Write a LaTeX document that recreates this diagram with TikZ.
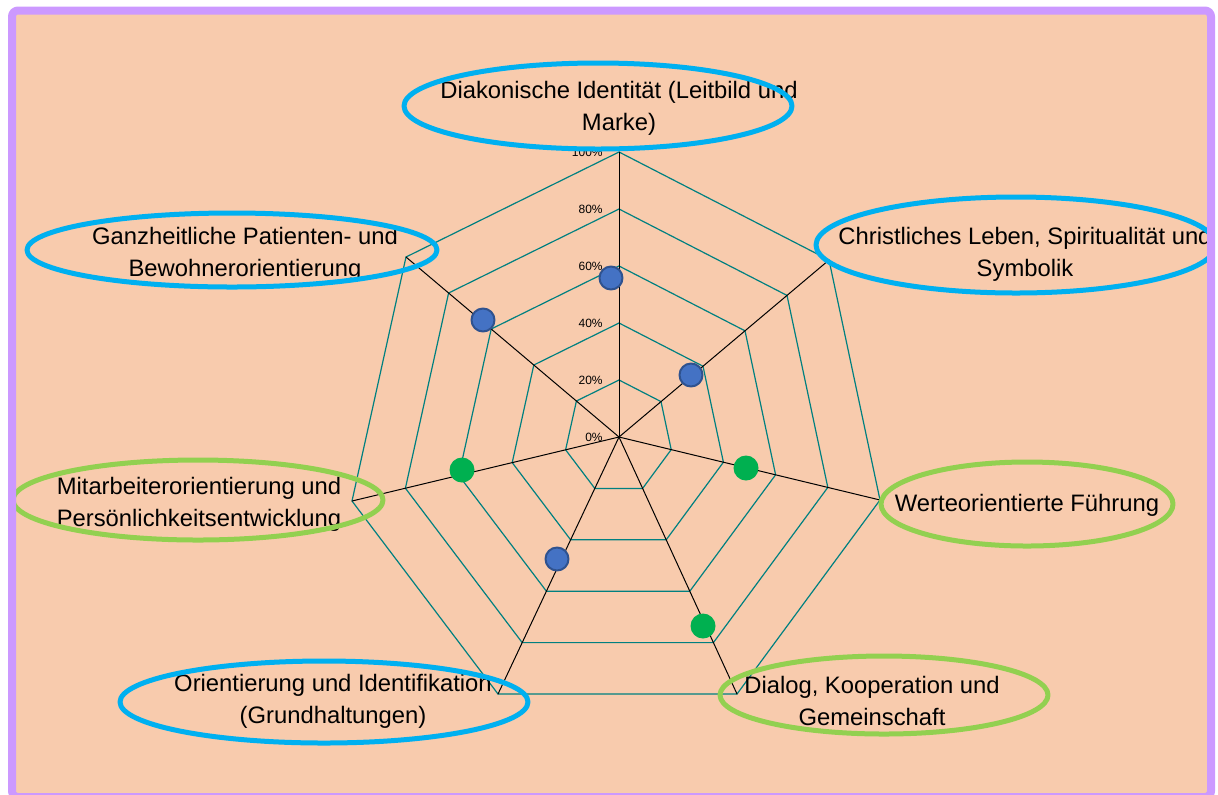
\documentclass[tikz,border=0pt]{standalone}
\usepackage{fontspec}
\setmainfont{Liberation Sans}
\usetikzlibrary{calc}
\definecolor{peach}{HTML}{F8CBAD}
\definecolor{lilac}{HTML}{CC99FF}
\definecolor{skyring}{HTML}{00B0F0}
\definecolor{limering}{HTML}{92D050}
\definecolor{gridteal}{HTML}{008080}
\definecolor{dotblue}{HTML}{4472C4}
\definecolor{dotblueedge}{HTML}{2F528F}
\definecolor{dotgreen}{HTML}{00B050}
\tikzset{
  ring/.style={line width=2.5pt},
  bluering/.style={ring, draw=skyring},
  greenring/.style={ring, draw=limering},
  axislabel/.style={font=\fontsize{11.9}{16}\selectfont, align=center, inner sep=0pt},
  pct/.style={font=\fontsize{6}{7}\selectfont, anchor=east, inner sep=0pt},
  bluedot/.style={circle, fill=dotblue, draw=dotblueedge, line width=1pt, minimum size=11.5pt, inner sep=0pt},
  greendot/.style={circle, fill=dotgreen, minimum size=12.5pt, inner sep=0pt},
}
\begin{document}
\begin{tikzpicture}[x=0.5pt, y=-0.5pt, line join=round, line cap=round]
\useasboundingbox (0,0) rectangle (1218,794);
\fill[white] (0,0) rectangle (1218,794);
\fill[peach] (12,10.5) rectangle (1211,797);
\begin{scope}
\clip (16,14.5) rectangle (1207,793);
\path
 (619,437) coordinate (O)
 (619,152) coordinate (A1)
 (829,260) coordinate (A2)
 (880,500) coordinate (A3)
 (737,694) coordinate (A4)
 (498,694) coordinate (A5)
 (352,501) coordinate (A6)
 (406,257) coordinate (A7)
 ;
% web
\foreach \f in {0.2,0.4,0.6,0.8,1}
  \draw[gridteal, line width=0.6pt] ($(O)!\f!(A1)$) -- ($(O)!\f!(A2)$) -- ($(O)!\f!(A3)$)
    -- ($(O)!\f!(A4)$) -- ($(O)!\f!(A5)$) -- ($(O)!\f!(A6)$) -- ($(O)!\f!(A7)$) -- cycle;
\foreach \a in {1,...,7}
  \draw[line width=0.5pt] (O) -- (A\a);
\foreach \p in {0,20,...,100}
  \path ($(O)!\p/100!(A1)$) ++(-16,0) node[pct]{\p\%};
% values
\node[bluedot] (v1) at (611,278) {};
\node[bluedot] (v2) at (691,375) {};
\node[greendot] (v3) at (746,468) {};
\node[greendot] (v4) at (703,626) {};
\node[bluedot] (v5) at (557,559) {};
\node[greendot] (v6) at (462,470) {};
\node[bluedot] (v7) at (483,320) {};
% labels
\node[axislabel] (tDiak) at (619,108.5) {Diakonische Identität (Leitbild und\\Marke)};
\node[axislabel] (tChrist) at (1025,254) {Christliches Leben, Spiritualität und\\Symbolik};
\node[axislabel] (tWerte) at (1027,505) {Werteorientierte Führung};
\node[axislabel] (tDialog) at (872,701) {Dialog, Kooperation und\\Gemeinschaft};
\node[axislabel] (tOrient) at (333,701.5) {Orientierung und Identifikation\\(Grundhaltungen)};
\node[axislabel] (tMitarb) at (199,504.5) {Mitarbeiterorientierung und\\Persönlichkeitsentwicklung};
\node[axislabel] (tGanz) at (245,254.5) {Ganzheitliche Patienten- und\\Bewohnerorientierung};
\draw[bluering] (598,106) ellipse [x radius=97pt, y radius=21.5pt];
\draw[bluering] (1016,245) ellipse [x radius=100pt, y radius=24pt];
\draw[greenring] (1027,504) ellipse [x radius=73pt, y radius=21pt];
\draw[greenring] (884,695) ellipse [x radius=82pt, y radius=19.5pt];
\draw[bluering] (324,702) ellipse [x radius=102pt, y radius=20.5pt];
\draw[greenring] (198,500) ellipse [x radius=92.5pt, y radius=20pt];
\draw[bluering] (232,250) ellipse [x radius=102.5pt, y radius=18.5pt];
\end{scope}
\draw[lilac, line width=4pt, rounded corners=3pt] (12,10.5) rectangle (1211,797);
\end{tikzpicture}
\end{document}
